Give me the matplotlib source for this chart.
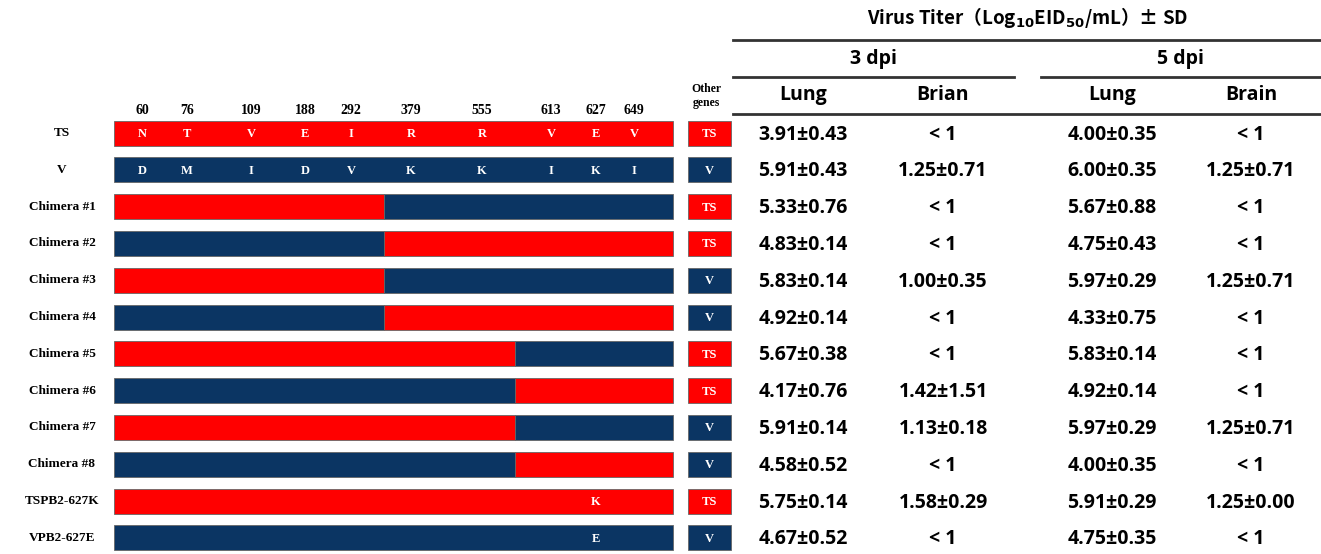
import matplotlib.pyplot as plt

# --- data ---
strains = ['TS', 'V', 'Chimera #1', 'Chimera #2', 'Chimera #3', 'Chimera #4',
           'Chimera #5', 'Chimera #6', 'Chimera #7', 'Chimera #8',
           'TSPB2-627K', 'VPB2-627E']
sites = ['60', '76', '109', '188', '292', '379', '555', '613', '627', '649']
ts_aa = ['N', 'T', 'V', 'E', 'I', 'R', 'R', 'V', 'E', 'V']
v_aa = ['D', 'M', 'I', 'D', 'V', 'K', 'K', 'I', 'K', 'I']
# PB2 origin of the N-terminal part and C-terminal part, and where they swap
first_part = ['TS', 'V', 'TS', 'V', 'TS', 'V', 'TS', 'V', 'TS', 'V', 'TS', 'V']
second_part = ['TS', 'V', 'V', 'TS', 'V', 'TS', 'V', 'TS', 'V', 'TS', 'TS', 'V']
swap_after = [None, None, '292', '292', '292', '292', '555', '555', '555', '555', None, None]
point_mut = [None, None, None, None, None, None, None, None, None, None, ('627', 'K'), ('627', 'E')]
other_genes = ['TS', 'V', 'TS', 'TS', 'V', 'V', 'TS', 'TS', 'V', 'V', 'TS', 'V']

lung3 = ['3.91±0.43', '5.91±0.43', '5.33±0.76', '4.83±0.14', '5.83±0.14', '4.92±0.14',
         '5.67±0.38', '4.17±0.76', '5.91±0.14', '4.58±0.52', '5.75±0.14', '4.67±0.52']
brain3 = ['< 1', '1.25±0.71', '< 1', '< 1', '1.00±0.35', '< 1',
          '< 1', '1.42±1.51', '1.13±0.18', '< 1', '1.58±0.29', '< 1']
lung5 = ['4.00±0.35', '6.00±0.35', '5.67±0.88', '4.75±0.43', '5.97±0.29', '4.33±0.75',
         '5.83±0.14', '4.92±0.14', '5.97±0.29', '4.00±0.35', '5.91±0.29', '4.75±0.35']
brain5 = ['< 1', '1.25±0.71', '< 1', '< 1', '1.25±0.71', '< 1',
          '< 1', '< 1', '1.25±0.71', '< 1', '1.25±0.00', '< 1']

# --- layout (pixel units) ---
colors = {'TS': '#ff0000', 'V': '#0b3563'}
site_x = [142, 187, 251, 305, 351, 411, 482, 551, 596, 634]
split_x = {'292': 384, '555': 515}
bar_l, bar_r = 114, 673
box_l, box_r = 688, 731
row_y0, row_dy = 133, 36.8
bar_h = 25

serif = ['Liberation Serif', 'DejaVu Serif']
sans = ['Open Sans', 'DejaVu Sans']

fig = plt.figure(figsize=(13.21, 5.54), dpi=100)
ax = fig.add_axes([0, 0, 1, 1])
ax.set_xlim(0, 1321)
ax.set_ylim(554, 0)
ax.axis('off')

# site numbers and other genes header
for s, x in zip(sites, site_x):
    ax.text(x, 111, s, ha='center', va='center', fontsize=10, fontweight='bold',
            family=serif)
ax.text(706, 89, 'Other', ha='center', va='center', fontsize=8.5, fontweight='bold', family=serif)
ax.text(706, 103, 'genes', ha='center', va='center', fontsize=8.5, fontweight='bold', family=serif)

for i, name in enumerate(strains):
    y = row_y0 + i * row_dy
    ax.text(62, y, name, ha='center', va='center', fontsize=9.5, fontweight='bold', family=serif)
    if swap_after[i] is None:
        segs = [(bar_l, bar_r, first_part[i])]
    else:
        sx = split_x[swap_after[i]]
        segs = [(bar_l, sx, first_part[i]), (sx, bar_r, second_part[i])]
    for l, r, src in segs:
        ax.barh(y, r - l, left=l, height=bar_h, color=colors[src], edgecolor='#666666',
                linewidth=0.6)
    if name == 'TS' or name == 'V':
        aas = ts_aa if name == 'TS' else v_aa
        for aa, x in zip(aas, site_x):
            ax.text(x, y + 1, aa, ha='center', va='center', color='white', fontsize=9,
                    fontweight='bold', family=serif)
    if point_mut[i] is not None:
        site, aa = point_mut[i]
        ax.text(site_x[sites.index(site)], y + 1, aa, ha='center', va='center', color='white',
                fontsize=9, fontweight='bold', family=serif)
    ax.barh(y, box_r - box_l, left=box_l, height=bar_h, color=colors[other_genes[i]],
            edgecolor='#666666', linewidth=0.6)
    ax.text((box_l + box_r) / 2, y + 1, other_genes[i], ha='center', va='center', color='white',
            fontsize=9, fontweight='bold', family=serif)

    for col, x in zip([lung3, brain3, lung5, brain5], [803, 943, 1112, 1251]):
        ax.text(x, y + 1.5, col[i], ha='center', va='center', fontsize=14, fontweight='bold',
                family=sans)

# table header
ax.text(1028, 18, r'Virus Titer（Log$_{\mathbf{10}}$EID$_{\mathbf{50}}$/mL）± SD', ha='center',
        va='center', fontsize=13.5, fontweight='bold', family=['Noto Sans CJK SC', 'DejaVu Sans'])
ax.text(873, 59, '3 dpi', ha='center', va='center', fontsize=14, fontweight='bold', family=sans)
ax.text(1180, 59, '5 dpi', ha='center', va='center', fontsize=14, fontweight='bold', family=sans)
for t, x in zip(['Lung', 'Brian', 'Lung', 'Brain'], [803, 943, 1112, 1251]):
    ax.text(x, 95, t, ha='center', va='center', fontsize=14, fontweight='bold', family=sans)
ax.plot([733, 1321], [40, 40], color='#333333', lw=2)
ax.plot([733, 1014], [77, 77], color='#333333', lw=2)
ax.plot([1041, 1321], [77, 77], color='#333333', lw=2)
ax.plot([733, 1321], [114, 114], color='#333333', lw=2)

fig.savefig('out.png', dpi=100)
